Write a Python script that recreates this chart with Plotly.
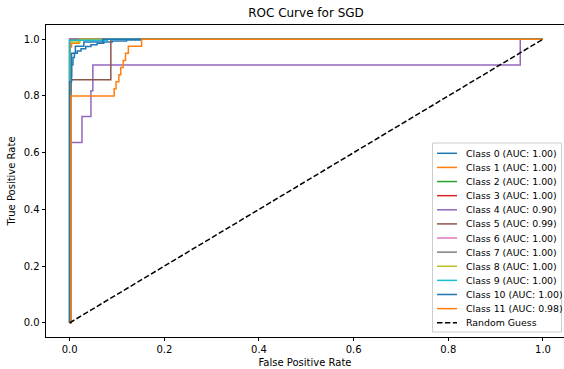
import plotly.graph_objects as go

# ---------------- data ----------------
class_names = ["Class 0", "Class 1", "Class 2", "Class 3", "Class 4", "Class 5",
               "Class 6", "Class 7", "Class 8", "Class 9", "Class 10", "Class 11"]
auc_values = [1.00, 1.00, 1.00, 1.00, 0.90, 0.99, 1.00, 1.00, 1.00, 1.00, 1.00, 0.98]
colors = ["#1f77b4", "#ff7f0e", "#2ca02c", "#d62728", "#9467bd", "#8c564b",
          "#e377c2", "#7f7f7f", "#bcbd22", "#17becf", "#1f77b4", "#ff7f0e"]

fpr_0 = [0, 0, 0.002, 0.002, 0.004, 0.004, 0.007, 0.007, 0.01, 0.01, 0.016, 0.016, 0.024, 0.024,
         0.034, 0.034, 0.045, 0.045, 0.058, 0.058, 0.072, 0.072, 0.09, 0.09, 0.12, 0.12, 0.15, 0.15, 1]
tpr_0 = [0, 0.82, 0.82, 0.87, 0.87, 0.91, 0.91, 0.935, 0.935, 0.95, 0.95, 0.958, 0.958, 0.966,
         0.966, 0.974, 0.974, 0.98, 0.98, 0.986, 0.986, 0.99, 0.99, 0.994, 0.994, 0.997, 0.997, 1, 1]
fpr_1 = [0, 0, 0.004, 0.004, 0.02, 0.02, 1]
tpr_1 = [0, 0.972, 0.972, 0.986, 0.986, 1, 1]
fpr_2 = [0, 0, 1]
tpr_2 = [0, 1, 1]
fpr_3 = [0, 0, 1]
tpr_3 = [0, 1, 1]
fpr_4 = [0, 0.002, 0.002, 0.026, 0.026, 0.045, 0.045, 0.049, 0.049, 0.952, 0.952, 1]
tpr_4 = [0, 0, 0.636, 0.636, 0.727, 0.727, 0.818, 0.818, 0.909, 0.909, 1, 1]
fpr_5 = [0, 0.003, 0.003, 0.087, 0.087, 1]
tpr_5 = [0, 0, 0.857, 0.857, 1, 1]
fpr_6 = [0, 0, 1]
tpr_6 = [0, 1, 1]
fpr_7 = [0, 0, 1]
tpr_7 = [0, 1, 1]
fpr_8 = [0, 0, 0.022, 0.022, 1]
tpr_8 = [0, 0.99, 0.99, 1, 1]
fpr_9 = [0, 0, 0.08, 0.08, 1]
tpr_9 = [0, 0.996, 0.996, 1, 1]
fpr_10 = [0, 0, 0.004, 0.004, 0.012, 0.012, 0.03, 0.03, 0.07, 0.07, 1]
tpr_10 = [0, 0.85, 0.85, 0.95, 0.95, 0.975, 0.975, 0.99, 0.99, 1, 1]
fpr_11 = [0, 0.003, 0.003, 0.094, 0.094, 0.098, 0.098, 0.104, 0.104, 0.108, 0.108, 0.113, 0.113, 0.118, 0.118, 0.124, 0.124, 0.152, 0.152, 1]
tpr_11 = [0, 0, 0.8, 0.8, 0.825, 0.825, 0.85, 0.85, 0.875, 0.875, 0.9, 0.9, 0.925, 0.925, 0.95, 0.95, 0.975, 0.975, 1, 1]

guess_x = [0, 1]
guess_y = [0, 1]

x_ticks = [0.0, 0.2, 0.4, 0.6, 0.8, 1.0]
y_ticks = [0.0, 0.2, 0.4, 0.6, 0.8, 1.0]

fprs = [fpr_0, fpr_1, fpr_2, fpr_3, fpr_4, fpr_5, fpr_6, fpr_7, fpr_8, fpr_9, fpr_10, fpr_11]
tprs = [tpr_0, tpr_1, tpr_2, tpr_3, tpr_4, tpr_5, tpr_6, tpr_7, tpr_8, tpr_9, tpr_10, tpr_11]

FONT = "DejaVu Sans"
W, H = 564, 369
L, T, B = 46, 25, 32
PW = W - L
PH = H - T - B

fig = go.Figure()
labels = [f"{n} (AUC: {a:.2f})" for n, a in zip(class_names, auc_values)]
for fx, ty, c, lab in zip(fprs, tprs, colors, labels):
    fig.add_trace(go.Scatter(x=fx, y=ty, mode="lines", name=lab,
                             line=dict(color=c, width=1.5), showlegend=False))
fig.add_trace(go.Scatter(x=guess_x, y=guess_y, mode="lines", name="Random Guess",
                         line=dict(color="black", width=1.5, dash="5.5px,2.4px"),
                         showlegend=False))

# ---------------- manual legend (matplotlib-like compact) ----------------
def px_x(p):
    return (p - L) / PW

def px_y(p):
    return (H - B - p) / PH

shapes = [dict(type="rect", xref="paper", yref="paper",
               x0=px_x(432.5), x1=px_x(561.5), y0=px_y(332), y1=px_y(143),
               fillcolor="rgba(255,255,255,0.85)", line=dict(color="#cccccc", width=1),
               layer="above")]
annotations = []
leg_labels = labels + ["Random Guess"]
leg_colors = colors + ["black"]
leg_dash = ["solid"] * len(labels) + ["5.5px,2.4px"]
row0, step = 153.3, 14.12
for i, (lab, c, d) in enumerate(zip(leg_labels, leg_colors, leg_dash)):
    yy = px_y(row0 + i * step)
    shapes.append(dict(type="line", xref="paper", yref="paper",
                       x0=px_x(437), x1=px_x(457), y0=yy, y1=yy,
                       line=dict(color=c, width=1.5, dash=d), layer="above"))
    annotations.append(dict(text=lab, xref="paper", yref="paper", x=px_x(463.5), y=yy,
                            xanchor="left", yanchor="middle", showarrow=False,
                            font=dict(family=FONT, size=9.4, color="black")))

fig.update_layout(
    width=W, height=H,
    margin=dict(l=L, r=0, t=T, b=B, pad=0),
    paper_bgcolor="white", plot_bgcolor="white",
    font=dict(family=FONT, size=10, color="black"),
    title=dict(text="ROC Curve for SGD", x=px_x(306), xref="paper", xanchor="center",
               y=1 - 12.5 / H, yref="container", yanchor="middle",
               font=dict(family=FONT, size=12, color="black")),
    showlegend=False,
    shapes=shapes,
    annotations=annotations,
)
fig.update_xaxes(range=[-0.05, -0.05 + PW / 473.3], tickvals=x_ticks,
                 ticktext=[f"{v:.1f}" for v in x_ticks],
                 showgrid=False, zeroline=False, showline=True, mirror=True,
                 linecolor="black", linewidth=0.8, ticks="outside", ticklen=3.5,
                 tickwidth=0.8, tickcolor="black",
                 tickfont=dict(family=FONT, size=10, color="black"),
                 title=dict(text="False Positive Rate", standoff=4,
                            font=dict(family=FONT, size=10, color="black")),
                 automargin=False)
fig.update_yaxes(range=[-0.05, 1.05], tickvals=y_ticks,
                 ticktext=[f"{v:.1f}" for v in y_ticks],
                 showgrid=False, zeroline=False, showline=True, mirror=False,
                 linecolor="black", linewidth=0.8, ticks="outside", ticklen=3.5,
                 tickwidth=0.8, tickcolor="black",
                 tickfont=dict(family=FONT, size=10, color="black"),
                 title=dict(text="True Positive Rate", standoff=6,
                            font=dict(family=FONT, size=10, color="black")),
                 automargin=False)

fig.write_html("out.html")
